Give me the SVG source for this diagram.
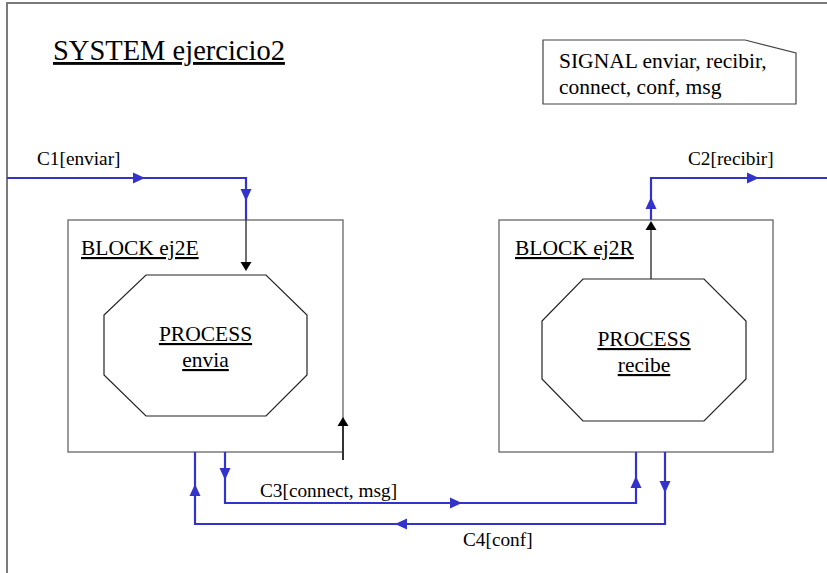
<svg xmlns="http://www.w3.org/2000/svg" xmlns:xlink="http://www.w3.org/1999/xlink" width="827" height="573" viewBox="0 0 827 573">
<style>
  text { font-family: "Liberation Serif", "Times New Roman", serif; fill: #000; }
  .title { font-size: 28.5px; text-decoration: underline; }
  .big { font-size: 21.5px; }
  .ul { text-decoration: underline; }
  .lbl { font-size: 19.3px; }
  .frame { fill: none; stroke: #7a7a7a; stroke-width: 2; }
  .block { fill: #fff; stroke: #666; stroke-width: 1.3; }
  .proc { fill: #fff; stroke: #222; stroke-width: 1.2; }
  .note { fill: #fff; stroke: #444; stroke-width: 1.2; }
  .ch { fill: none; stroke: #3333cc; stroke-width: 2.2; }
  .sr { fill: none; stroke: #333; stroke-width: 1.4; }
  .ab { fill: #3333cc; }
  .ak { fill: #000; }
</style>
<defs>
  <path id="arb" d="M0,0 L-12,-5.5 L-12,5.5 Z"/>
  <path id="ark" d="M0,0 L-9,-5.5 L-9,5.5 Z"/>
</defs>
<g id="system">
  <path class="frame" d="M7,573 V3 H827"/>
  <text class="title" x="53" y="60">SYSTEM ejercicio2</text>
</g>
<g id="signals">
  <path class="note" d="M543,40 H745 L796,53 V104 H543 Z"/>
  <text class="big" x="559" y="68">SIGNAL enviar, recibir,</text>
  <text class="big" x="559" y="94">connect, conf, msg</text>
</g>
<g id="block-ej2E">
  <rect class="block" x="68" y="220" width="275" height="232"/>
  <text class="big ul" x="81" y="255">BLOCK ej2E</text>
</g>
<g id="process-envia">
  <path class="proc" d="M146,275 H266 L307,315 V375 L266,416 H146 L104,375 V315 Z"/>
  <text class="big ul" x="205.5" y="341" text-anchor="middle">PROCESS</text>
  <text class="big ul" x="205.5" y="367" text-anchor="middle">envia</text>
</g>
<g id="block-ej2R">
  <rect class="block" x="499" y="220" width="274" height="232"/>
  <text class="big ul" x="515" y="255">BLOCK ej2R</text>
</g>
<g id="process-recibe">
  <path class="proc" d="M583,279 H704 L746,321 V379 L704,421 H583 L542,379 V321 Z"/>
  <text class="big ul" x="644" y="346" text-anchor="middle">PROCESS</text>
  <text class="big ul" x="644" y="372" text-anchor="middle">recibe</text>
</g>
<g id="connectors">
  <!-- signal routes inside blocks -->
  <path class="sr" d="M246,220 V264"/>
  <use xlink:href="#ark" class="ak" transform="translate(246,271) rotate(90)"/>
  <path class="sr" d="M651,279 V228"/>
  <use xlink:href="#ark" class="ak" transform="translate(651,221) rotate(-90)"/>
  <path class="sr" d="M343,460 V424" style="stroke-width:2"/>
  <use xlink:href="#ark" class="ak" transform="translate(343,417) rotate(-90)"/>
  <!-- C1 -->
  <path class="ch" d="M7,178 H246 V220"/>
  <use xlink:href="#arb" class="ab" transform="translate(145,178)"/>
  <use xlink:href="#arb" class="ab" transform="translate(246,201) rotate(90)"/>
  <text class="lbl" x="37" y="165">C1[enviar]</text>
  <!-- C2 -->
  <path class="ch" d="M651,220 V178 H827"/>
  <use xlink:href="#arb" class="ab" transform="translate(651,197) rotate(-90)"/>
  <use xlink:href="#arb" class="ab" transform="translate(759,178)"/>
  <text class="lbl" x="688" y="165">C2[recibir]</text>
  <!-- C3 -->
  <path class="ch" d="M225,452 V503 H636 V452"/>
  <use xlink:href="#arb" class="ab" transform="translate(225,480) rotate(90)"/>
  <use xlink:href="#arb" class="ab" transform="translate(462,503)"/>
  <use xlink:href="#arb" class="ab" transform="translate(636,476) rotate(-90)"/>
  <text class="lbl" x="260" y="497">C3[connect, msg]</text>
  <!-- C4 -->
  <path class="ch" d="M665,452 V524 H195 V452"/>
  <use xlink:href="#arb" class="ab" transform="translate(665,493) rotate(90)"/>
  <use xlink:href="#arb" class="ab" transform="translate(395,524) rotate(180)"/>
  <use xlink:href="#arb" class="ab" transform="translate(195,484) rotate(-90)"/>
  <text class="lbl" x="463" y="546">C4[conf]</text>
</g>
</svg>
